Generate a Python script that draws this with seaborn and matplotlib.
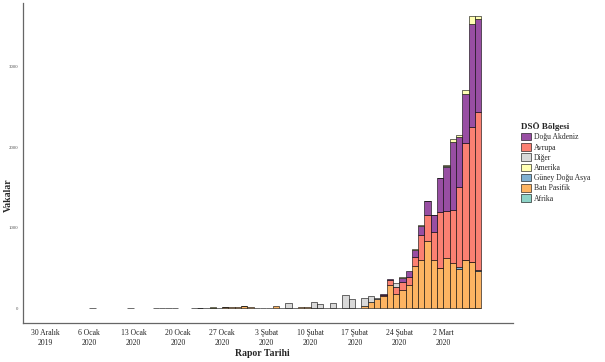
import numpy as np
import pandas as pd
import seaborn as sns
import matplotlib.pyplot as plt
from matplotlib.patches import Patch

sns.set_theme(style='white')
plt.rcParams['font.family'] = ['Liberation Serif', 'DejaVu Serif']

# Rapor tarihleri: 30 Aralık 2019 - 7 Mart 2020 (gün gün)
dates = pd.date_range('2019-12-30', '2020-03-07', freq='D')

# Günlük vaka sayıları (DSÖ bölgelerine göre)
bati_pasifik = [0, 0, 0, 0, 0, 0, 0, 1, 0, 0,
                0, 0, 0, 1, 0, 0, 0, 1, 1, 1,
                1, 0, 0, 2, 5, 7, 9, 10, 14, 18,
                22, 25, 20, 5, 3, 8, 30, 12, 5, 12,
                15, 18, 5, 5, 10, 8, 12, 10, 8, 12,
                31, 84, 122, 160, 291, 175, 229, 295, 530, 605,
                840, 600, 497, 630, 567, 485, 592, 560, 456]
guney_dogu_asya = [0] * 10 + [0] * 10 + [0] * 10 + [0] * 10 + [0] * 10 + \
                  [0, 0, 0, 0, 0, 0, 0, 0, 0, 0,
                   0, 0, 3, 0, 0, 32, 5, 5, 10]
avrupa = [0, 0, 0, 0, 0, 0, 0, 0, 0, 0,
          0, 0, 0, 0, 0, 0, 0, 0, 0, 0,
          0, 0, 0, 0, 0, 0, 2, 0, 3, 0,
          0, 0, 0, 0, 0, 0, 0, 0, 0, 0,
          0, 0, 0, 0, 0, 0, 0, 0, 0, 0,
          0, 0, 0, 12, 65, 85, 105, 100, 111, 310,
          317, 350, 690, 580, 652, 991, 1453, 1670, 1960]
dogu_akdeniz = [0, 0, 0, 0, 0, 0, 0, 0, 0, 0,
                0, 0, 0, 0, 0, 0, 0, 0, 0, 0,
                0, 0, 0, 0, 0, 0, 0, 0, 0, 0,
                0, 4, 0, 0, 0, 0, 0, 0, 0, 0,
                0, 0, 0, 0, 0, 0, 0, 0, 0, 0,
                0, 0, 0, 8, 8, 5, 45, 70, 85, 110,
                170, 207, 420, 540, 839, 619, 598, 1280, 1156]
diger = [0, 0, 0, 0, 0, 0, 0, 0, 0, 0,
         0, 0, 0, 0, 0, 0, 0, 0, 0, 0,
         0, 0, 0, 0, 0, 0, 0, 0, 0, 0,
         0, 0, 0, 0, 0, 0, 0, 0, 60, 0,
         0, 0, 80, 45, 0, 55, 0, 155, 105, 0,
         95, 71, 5, 0, 0, 45, 0, 0, 0, 0,
         0, 0, 0, 10, 0, 0, 0, 0, 0]
amerika = [0, 0, 0, 0, 0, 0, 0, 0, 0, 0,
           0, 0, 0, 0, 0, 0, 0, 0, 0, 0,
           0, 0, 0, 0, 1, 0, 2, 0, 0, 0,
           0, 0, 0, 0, 0, 0, 0, 0, 0, 0,
           0, 0, 0, 0, 0, 0, 0, 0, 0, 0,
           0, 0, 0, 0, 0, 0, 8, 0, 5, 5,
           5, 5, 8, 12, 41, 25, 54, 95, 33]
afrika = [0] * 10 + [0] * 10 + [0] * 10 + [0] * 10 + [0] * 10 + \
         [0, 0, 0, 0, 0, 0, 0, 0, 1, 0,
          0, 0, 3, 0, 0, 0, 5, 10, 8]

series = {
    'Doğu Akdeniz': dogu_akdeniz,
    'Avrupa': avrupa,
    'Diğer': diger,
    'Amerika': amerika,
    'Güney Doğu Asya': guney_dogu_asya,
    'Batı Pasifik': bati_pasifik,
    'Afrika': afrika,
}
legend_order = list(series.keys())
# yığın sırası (ilk eleman en üstte)
stack_order = ['Amerika', 'Diğer', 'Doğu Akdeniz', 'Avrupa',
               'Güney Doğu Asya', 'Batı Pasifik', 'Afrika']
colors = {
    'Doğu Akdeniz': '#984EA3',
    'Avrupa': '#FB8072',
    'Diğer': '#D9D9D9',
    'Amerika': '#FFFFB3',
    'Güney Doğu Asya': '#80B1D3',
    'Batı Pasifik': '#FDB462',
    'Afrika': '#8DD3C7',
}

tick_days = [0, 7, 14, 21, 28, 35, 42, 49, 56, 63]
tick_labels = ['30 Aralık\n2019', '6 Ocak\n2020', '13 Ocak\n2020', '20 Ocak\n2020',
               '27 Ocak\n2020', '3 Şubat\n2020', '10 Şubat\n2020', '17 Şubat\n2020',
               '24 Şubat\n2020', '2 Mart\n2020']

df = pd.concat([pd.DataFrame({'gun': np.arange(len(dates)) + 0.5, 'vaka': vals, 'bolge': name})
                for name, vals in series.items()], ignore_index=True)
df = df[df['vaka'] > 0]

fig = plt.figure(figsize=(6.05, 3.62), dpi=100)
ax = fig.add_axes([23 / 605, 1 - 323 / 362, 490 / 605, 320 / 362])

sns.histplot(data=df, x='gun', weights='vaka', hue='bolge', hue_order=stack_order,
             multiple='stack', binwidth=1, binrange=(0, len(dates)), palette=colors,
             edgecolor='black', linewidth=0.4, alpha=1, legend=False, ax=ax)

# sıfır yükseklikli çubukları gizle
for p in ax.patches:
    if p.get_height() == 0:
        p.set_visible(False)

ax.set_xlim(-3.5, 74)
ax.set_ylim(-180, 3785)
ax.set_xticks(tick_days)
ax.set_xticklabels(tick_labels, fontsize=5.5, color='#222222', linespacing=1.25)
ax.set_yticks([0, 1000, 2000, 3000])
ax.set_yticklabels(['0', '1000', '2000', '3000'], fontsize=3.5, color='#555555')
ax.tick_params(axis='both', length=2, width=0.5, color='#555555', pad=1.5)
ax.tick_params(axis='x', pad=2.5)

for side in ['top', 'right']:
    ax.spines[side].set_visible(False)
for side in ['left', 'bottom']:
    ax.spines[side].set_color('#666666')
    ax.spines[side].set_linewidth(0.9)

ax.set_xlabel('Rapor Tarihi', fontsize=7, fontweight='bold')
ax.set_ylabel('Vakalar', fontsize=7, fontweight='bold')
ax.xaxis.set_label_coords(0.488, -0.08)
ax.yaxis.set_label_coords(-0.021, 0.40)

handles = [Patch(facecolor=colors[r], edgecolor='black', linewidth=0.4, label=r)
           for r in legend_order]
leg = fig.legend(handles=handles, title='DSÖ Bölgesi', loc='upper left',
                 bbox_to_anchor=(521 / 605, 1 - 122 / 362), frameon=False,
                 fontsize=5.5, title_fontsize=6.5, handlelength=1.3, handleheight=1.1,
                 handletextpad=0.4, labelspacing=0.26, borderpad=0, borderaxespad=0)
leg.get_title().set_fontweight('bold')
leg._legend_box.align = 'left'

fig.savefig('out.png', dpi=100, facecolor='white')
